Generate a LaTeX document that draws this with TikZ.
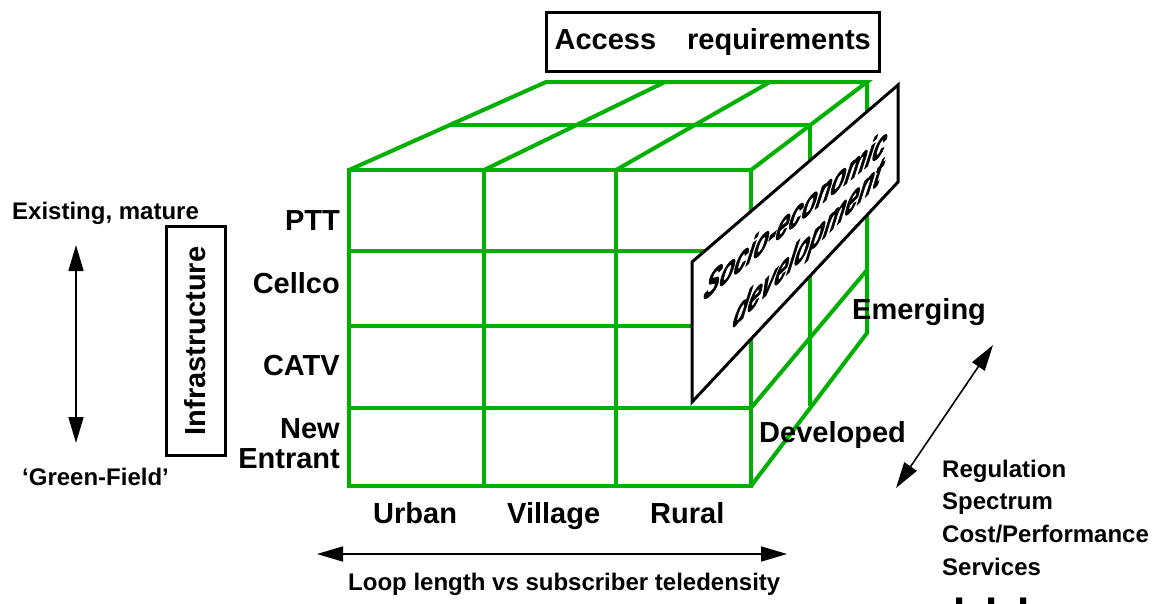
\documentclass[tikz,border=0pt]{standalone}
\usepackage{fontspec}
\setmainfont{Liberation Sans}
\newfontfamily\socfont[BoldItalicFeatures={FakeBold=2.5}]{Liberation Sans}
\usetikzlibrary{arrows.meta}
\definecolor{cubegreen}{RGB}{0,176,0}
\begin{document}
\begin{tikzpicture}[x=1pt,y=-1pt,
  grid/.style={draw=cubegreen, line width=4pt},
  blk/.style={draw=black, line width=3pt},
  lbl/.style={inner sep=0pt, font=\fontsize{29}{33}\selectfont\bfseries},
  sml/.style={inner sep=0pt, font=\fontsize{24}{28}\selectfont\bfseries},
  arr/.style={line width=1.6pt, {Triangle[length=26pt,width=15pt]}-{Triangle[length=26pt,width=15pt]}}]
\useasboundingbox (0,0) rectangle (1154,603);
\clip (0,0) rectangle (1154,603);

% ---- cube: front face
\draw[grid] (349,170) rectangle (751,486);
\foreach \x in {484,616} \draw[grid] (\x,170) -- (\x,486);
\foreach \y in {251,326,408} \draw[grid] (349,\y) -- (751,\y);
% ---- top face
\draw[grid] (349,170) -- (546,82) -- (867,82) -- (751,170);
\draw[grid] (484,170) -- (665,82);
\draw[grid] (616,170) -- (770,82);
\draw[grid] (449,125) -- (810,125);
% ---- right face
\draw[grid] (867,82) -- (867,333) -- (751,486);
\draw[grid] (810,125) -- (810,406);
\draw[grid] (751,408) -- (867,270);

% ---- socio-economic plate
\coordinate (s1) at (692,262);
\coordinate (s2) at (898,85);
\coordinate (s3) at (898,182);
\coordinate (s4) at (692,402);
\draw[blk, fill=white] (s1) -- (s2) -- (s3) -- (s4) -- cycle;
\begin{scope}[shift={(702,302)}, cm={1,0.82,0.4,1.7,(0,0)}]
  \node (socio) [transform shape, anchor=base west, inner sep=0pt,
    font=\fontsize{23.5}{27}\selectfont\socfont\bfseries\itshape] at (0,0) {Socio-economic};
\end{scope}
\begin{scope}[shift={(731,330)}, cm={1,0.99,0.4,1.7,(0,0)}]
  \node (devel) [transform shape, anchor=base west, inner sep=0pt,
    font=\fontsize{24}{28}\selectfont\socfont\bfseries\itshape] at (0,0) {development};
\end{scope}

% ---- boxes
\node (access) [blk, inner sep=0pt, minimum width=332.5pt, minimum height=58.5pt,
  font=\fontsize{29}{33}\selectfont\bfseries] at (712.75,41.75) {Access\hspace{31pt}requirements};
\node (infra) [blk, inner sep=0pt, minimum width=229.5pt, minimum height=59pt, rotate=90,
  font=\fontsize{29}{33}\selectfont\bfseries] at (195.5,341) {Infrastructure};

% ---- left labels
\node (exist) [sml, anchor=base west] at (12,219) {Existing, mature};
\node (green) [sml, anchor=base west] at (22,485) {‘Green-Field’};
\coordinate (va) at (76,245);
\coordinate (vb) at (76,443);
\draw[arr] (va) -- (vb);

\node (ptt) [lbl, anchor=base east] at (340,230) {PTT};
\node (cellco) [lbl, anchor=base east] at (340,293) {Cellco};
\node (catv) [lbl, anchor=base east] at (340,375) {CATV};
\node (new1) [lbl, anchor=base east] at (340,438) {New};
\node (new2) [lbl, anchor=base east] at (340,468) {Entrant};

% ---- bottom labels
\node (urban) [lbl, anchor=base west] at (373,523) {Urban};
\node (village) [lbl, anchor=base west] at (507,523) {Village};
\node (rural) [lbl, anchor=base west] at (650,523) {Rural};
\coordinate (ha) at (317,554);
\coordinate (hb) at (787,554);
\draw[arr] (ha) -- (hb);
\node (loop) [sml, anchor=base west] at (348,590) {Loop length vs subscriber teledensity};

% ---- right labels
\node (emerg) [lbl, anchor=base west] at (852,319) {Emerging};
\node (devd) [lbl, anchor=base west] at (759,442) {Developed};
\coordinate (da) at (993,345);
\coordinate (db) at (896,488);
\draw[arr] (da) -- (db);
\node (reg) [sml, anchor=base west] at (942,477) {Regulation};
\node (spec) [sml, anchor=base west] at (942,509) {Spectrum};
\node (cost) [sml, anchor=base west] at (942,542) {Cost/Performance};
\node (serv) [sml, anchor=base west] at (942,575) {Services};
\node (dots) [inner sep=0pt, anchor=base west, font=\fontsize{44}{44}\selectfont\bfseries]
  at (953,604) {.\hspace{19.8pt}.\hspace{19.8pt}.};
\end{tikzpicture}
\end{document}
